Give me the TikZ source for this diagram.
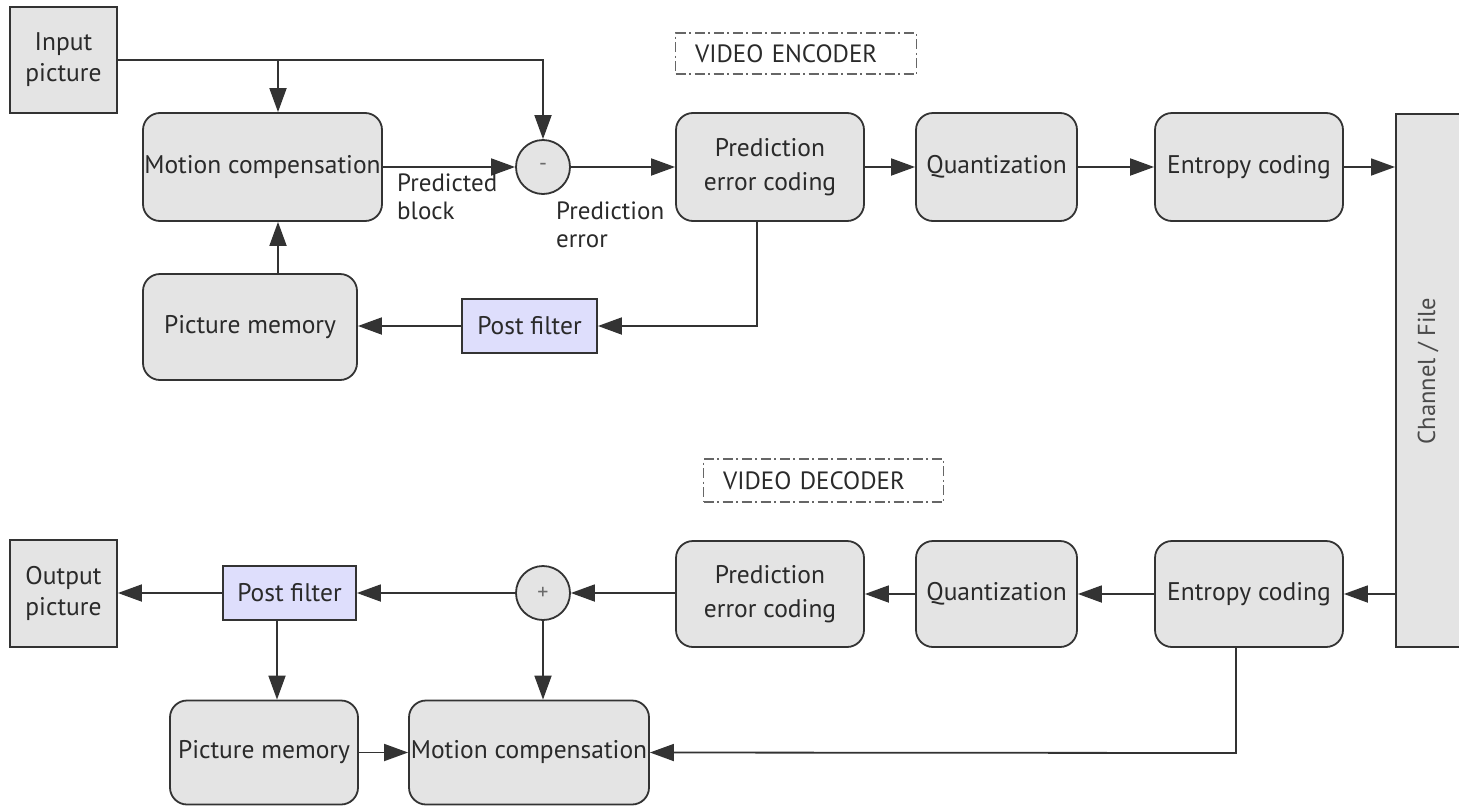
\documentclass[tikz,border=0pt]{standalone}
\usepackage{fontspec}
\setmainfont{PT Sans}
\usetikzlibrary{arrows.meta,calc}
\definecolor{boxfill}{HTML}{E4E4E4}
\definecolor{edge}{HTML}{333333}
\definecolor{filterfill}{HTML}{DEDEFC}
\definecolor{txt}{HTML}{2A2A2A}
\tikzset{
  base/.style={draw=edge, line width=1.8pt, fill=boxfill, text=txt, font=\fontsize{25.5}{31}\selectfont, inner sep=0pt, align=center},
  rbox/.style={base, rounded corners=17pt},
  sbox/.style={base},
  filterbox/.style={base, fill=filterfill},
  twoline/.style={font=\fontsize{25.5}{34}\selectfont},
  sumnode/.style={base, circle, minimum size=54pt, font=\fontsize{22}{24}\selectfont, text=txt!70},
  wire/.style={draw=edge, line width=1.8pt},
  flow/.style={wire, -{Triangle[length=24pt,width=17pt]}},
  tag/.style={draw=edge!75, line width=1.2pt, dash pattern=on 10pt off 3.5pt on 2pt off 3.5pt, text=txt, font=\fontsize{25}{30}\selectfont, anchor=west, inner sep=0pt},
  note/.style={text=txt, font=\fontsize{25}{28}\selectfont, align=left, anchor=north west, inner sep=0pt},
}
\begin{document}
\begin{tikzpicture}[x=1pt,y=-1pt]
\useasboundingbox (0,0) rectangle (1459,806);
\begin{scope}
\clip (0,0) rectangle (1459,806);

% ---------- encoder ----------
\node[sbox, minimum width=107pt, minimum height=106pt] (inpic) at (63.5,60) {Input\\picture};
\node[rbox, minimum width=239pt, minimum height=108pt] (mc1) at (262.5,167) {Motion compensation};
\node[sumnode] (minus) at (543,167) {-};
\node[rbox, twoline, minimum width=188pt, minimum height=108pt] (pec1) at (770,167) {Prediction\\error coding};
\node[rbox, minimum width=161pt, minimum height=108pt] (q1) at (996.5,167) {Quantization};
\node[rbox, minimum width=188pt, minimum height=108pt] (ec1) at (1249,167) {Entropy coding};
\node[rbox, minimum width=214pt, minimum height=106pt] (pm1) at (250,327) {Picture memory};
\node[filterbox, minimum width=135pt, minimum height=54pt] (pf1) at (529.5,326) {Post filter};

% dash-dot section tags
\node[tag, minimum width=241pt, minimum height=41pt, text width=228pt, align=left] (enc) at (675,53.5) {\hspace*{13pt}VIDEO ENCODER};
\node[tag, minimum width=240pt, minimum height=43pt, text width=227pt, align=left] (dec) at (703,480.5) {\hspace*{13pt}VIDEO DECODER};

% channel / file
\node[sbox, anchor=north west, minimum width=90pt, minimum height=533pt] (chan) at (1395,113) {};
\node[text=txt!85, font=\fontsize{24.5}{28}\selectfont, rotate=90] (chanlabel) at (1428,371) {Channel / File};

% ---------- decoder ----------
\node[sbox, minimum width=107pt, minimum height=107pt] (outpic) at (63.5,593.5) {Output\\picture};
\node[filterbox, minimum width=133pt, minimum height=54pt] (pf2) at (289.5,593) {Post filter};
\node[sumnode] (plus) at (543,593) {+};
\node[rbox, twoline, minimum width=188pt, minimum height=106pt] (pec2) at (770,594) {Prediction\\error coding};
\node[rbox, minimum width=161pt, minimum height=106pt] (q2) at (996.5,594) {Quantization};
\node[rbox, minimum width=188pt, minimum height=106pt] (ec2) at (1249,594) {Entropy coding};
\node[rbox, minimum width=188pt, minimum height=104pt] (pm2) at (264,752.5) {Picture memory};
\node[rbox, minimum width=240pt, minimum height=104pt] (mc2) at (529,752.5) {Motion compensation};

% ---------- connectors, encoder ----------
\coordinate (split) at (278,60);
\coordinate (topright) at (543,60);
\draw[wire] (inpic.east |- split) -- (split);
\draw[flow] (split) -- (split |- mc1.north);
\draw[flow] (split) -- (topright) -- (minus.north);
\draw[flow] (mc1.east) -- (minus.west);
\draw[flow] (minus.east) -- (pec1.west);
\draw[flow] (pec1.east) -- (q1.west);
\draw[flow] (q1.east) -- (ec1.west);
\draw[flow] (ec1.east) -- (chan.west |- ec1.east);
\coordinate (fbdown) at (757,326);
\draw[flow] (fbdown |- pec1.south) -- (fbdown) -- (pf1.east);
\draw[flow] (pf1.west) -- (pm1.east |- pf1.west);
\coordinate (memup) at (278,0);
\draw[flow] (memup |- pm1.north) -- (memup |- mc1.south);

\node[note] (predblock) at (397,174) {Predicted\\block};
\node[note] (prederr) at (556,202) {Prediction\\error};

% ---------- connectors, decoder ----------
\draw[flow] (chan.west |- ec2.east) -- (ec2.east);
\draw[flow] (ec2.west) -- (q2.east);
\draw[flow] (q2.west) -- (pec2.east |- q2.west);
\draw[flow] (pec2.west |- plus.east) -- (plus.east);
\draw[flow] (plus.west) -- (pf2.east);
\draw[flow] (pf2.west) -- (outpic.east |- pf2.west);
\coordinate (pfdown) at (277,0);
\draw[flow] (pfdown |- pf2.south) -- (pfdown |- pm2.north);
\draw[flow] (plus.south) -- (plus.south |- mc2.north);
\draw[flow] (pm2.east) -- (mc2.west);
\coordinate (ecdown) at (1236,753);
\draw[flow] (ecdown |- ec2.south) -- (ecdown) -- (mc2.east);
\end{scope}
\end{tikzpicture}
\end{document}
